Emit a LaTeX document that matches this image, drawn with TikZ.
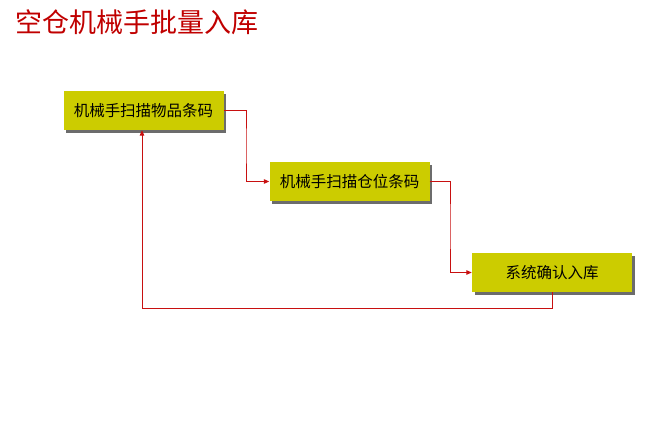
\documentclass[tikz,border=0pt]{standalone}
\usepackage{fontspec}
\newfontfamily\cjk{Noto Sans CJK SC}
\usetikzlibrary{arrows.meta,shadows}
\definecolor{titlered}{RGB}{192,0,0}
\definecolor{boxolive}{RGB}{204,204,0}
\definecolor{linkred}{RGB}{200,16,16}

\begin{document}
\begin{tikzpicture}[x=1pt, y=-1pt,
    stepbox/.style={draw=none, fill=boxolive, minimum width=160pt, minimum height=39pt,
      inner sep=0pt, font=\cjk\fontsize{15.5}{17}\selectfont,
      drop shadow={shadow xshift=2.5pt, shadow yshift=-2.5pt, fill=gray!85!black, opacity=1}},
    link/.style={linkred, line width=1pt, -{Triangle[length=5.5pt,width=4.5pt]}}]
  \useasboundingbox (0,0) rectangle (670,439);
  % Title.
  \node[anchor=west, text=titlered, font=\cjk\fontsize{27}{30}\selectfont, inner sep=0pt]
    (title) at (15,22) {空仓机械手批量入库};
  % The three steps.
  \node[stepbox] (scanitem) at (143.5,110.5) {机械手扫描物品条码};
  \node[stepbox] (scanslot) at (349.5,181.5) {机械手扫描仓位条码};
  \node[stepbox] (confirm) at (552,272.5) {系统确认入库};
  % Connectors.
  \draw[link] (scanitem.east) -| (246,146) |- (scanslot.west);
  \draw[link] (scanslot.east) -| (450,226) |- (confirm.west);
  \draw[link] (confirm.south) |- (142,308) -- ([xshift=-1.5pt]scanitem.south);
\end{tikzpicture}
\end{document}
